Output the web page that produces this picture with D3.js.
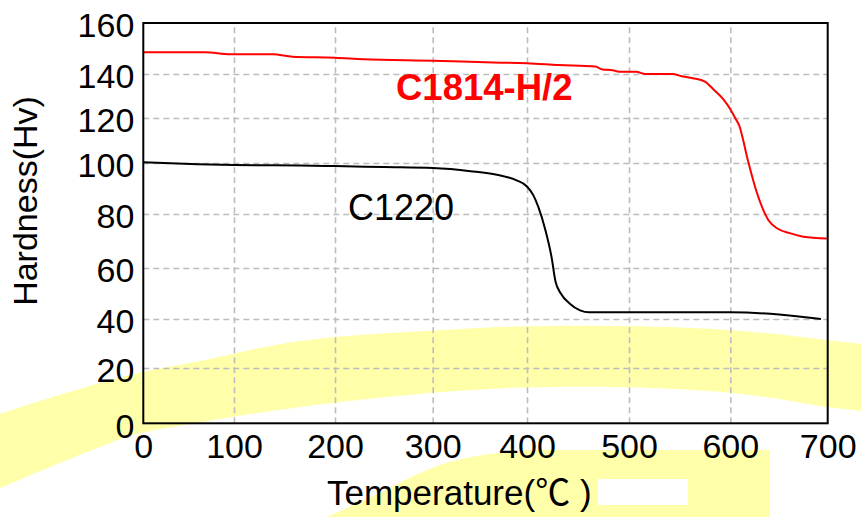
<!DOCTYPE html>
<html>
<head>
<meta charset="utf-8">
<script src="https://cdn.jsdelivr.net/npm/d3@7"></script>
<style>
	body { margin: 0; background: #fff; }
	svg text { font-family: "Liberation Sans", Arial, sans-serif; fill: #000; }
</style>
</head>
<body>
<svg id="chart" width="861" height="517"></svg>
<script>
// Hardness vs annealing temperature
var xTicks = [0, 100, 200, 300, 400, 500, 600, 700];
var yTicks = [0, 20, 40, 60, 80, 100, 120, 140, 160];

var c1814_temp = [0, 68, 96, 138, 158, 200, 229, 300, 364, 400, 431, 467, 474, 484, 490, 507, 516, 543, 551, 563, 575, 583, 593, 600, 605, 609, 618, 627, 639, 648, 661, 675, 699];
var c1814_hv   = [148.5, 148.5, 147.7, 147.7, 146.8, 146.4, 145.8, 145.2, 144.5, 144.2, 143.5, 142.9, 141.8, 141.5, 140.9, 140.9, 140.0, 140.0, 139.1, 138.1, 136.5, 133.2, 128.6, 124.0, 120.0, 116.8, 101.3, 88.7, 77.8, 74.7, 72.9, 71.6, 70.9];

var c1220_temp = [0, 60, 100, 165, 200, 250, 300, 340, 368, 389, 400, 406, 411, 418, 424, 428, 433, 442, 452, 461, 600, 650, 693];
var c1220_hv   = [100.3, 99.5, 99.2, 99.0, 98.8, 98.4, 98.0, 96.8, 95.4, 93.2, 90.8, 87.5, 82.9, 74.1, 64.2, 54.6, 50.1, 46.0, 43.4, 42.6, 42.6, 41.8, 40.0];

var seriesLabels = ['C1814-H/2', 'C1220'];

// the scanned figure is not evenly spaced, so the scales are piecewise
var xGridPx = [143.3, 234, 335, 432.7, 527, 629, 730.3, 827.7];
var yGridPx = [423.3, 368, 319, 268, 214, 163, 118, 74, 23];

var x = d3.scaleLinear().domain(xTicks).range(xGridPx);
var y = d3.scaleLinear().domain(yTicks).range(yGridPx);

var plotLeft = x(0), plotRight = x(700), plotTop = y(160), plotBottom = y(0);

var svg = d3.select('#chart');

// yellow watermark behind the figure
var bandTop = [[-10,418],[0,414],[50,398],[100,383],[143,372],[200,361],[300,341],[443,330],[550,326],[693,328],[765,333],[827,340],[871,345]];
var bandBottom = [[871,412],[827,407],[765,397],[693,390],[550,387],[443,392],[300,407],[190,424],[133,435],[100,447],[50,467],[0,488],[-10,492]];
var smooth = d3.line().curve(d3.curveCatmullRom);
svg.append('path')
	.attr('d', smooth(bandTop) + 'L' + smooth(bandBottom).slice(1) + 'Z')
	.attr('fill', '#ffffaa');
svg.append('path')
	.attr('d', smooth([[325,518],[371,497],[443,464],[515,451],[560,450]]) + 'L770,450L770,518Z')
	.attr('fill', '#ffffaa');
svg.append('rect')
	.attr('x', 598).attr('y', 479)
	.attr('width', 90).attr('height', 26)
	.attr('fill', '#fff');

// grid
var grid = svg.append('g').attr('class', 'grid');
grid.append('g')
	.attr('transform', 'translate(0,' + plotBottom + ')')
	.call(d3.axisBottom(x).tickValues(xTicks.slice(1, -1)).tickSize(-(plotBottom - plotTop)).tickFormat(''));
grid.append('g')
	.attr('transform', 'translate(' + plotLeft + ',0)')
	.call(d3.axisLeft(y).tickValues(yTicks.slice(1, -1)).tickSize(-(plotRight - plotLeft)).tickFormat(''));
grid.selectAll('.domain').remove();
grid.selectAll('line')
	.attr('stroke', '#bdbdbd')
	.attr('stroke-width', 1.6)
	.attr('stroke-dasharray', '6,4');

// tick labels
svg.append('g')
	.attr('transform', 'translate(0,' + plotBottom + ')')
	.call(d3.axisBottom(x).tickValues(xTicks).tickSize(0).tickPadding(11));
svg.append('g')
	.attr('transform', 'translate(' + plotLeft + ',3)')
	.call(d3.axisLeft(y).tickValues(yTicks).tickSize(0).tickPadding(9));
svg.selectAll('.domain').remove();
svg.selectAll('.tick text')
	.attr('font-family', '"Liberation Sans", Arial, sans-serif')
	.attr('font-size', 34)
	.attr('fill', '#000');

// curves
var line = d3.line()
	.x(d => x(d[0]))
	.y(d => y(d[1]))
	.curve(d3.curveMonotoneX);

svg.append('path')
	.datum(d3.zip(c1814_temp, c1814_hv))
	.attr('d', line)
	.attr('fill', 'none')
	.attr('stroke', '#ff0000')
	.attr('stroke-width', 2);
svg.append('path')
	.datum(d3.zip(c1220_temp, c1220_hv))
	.attr('d', line)
	.attr('fill', 'none')
	.attr('stroke', '#000')
	.attr('stroke-width', 2);

// frame
svg.append('rect')
	.attr('x', plotLeft).attr('y', plotTop)
	.attr('width', plotRight - plotLeft).attr('height', plotBottom - plotTop)
	.attr('fill', 'none')
	.attr('stroke', '#000')
	.attr('stroke-width', 2);

// series labels
svg.append('text')
	.attr('x', 396).attr('y', 100)
	.attr('font-size', 36.5)
	.attr('font-weight', 'bold')
	.style('fill', '#ff0000')
	.text(seriesLabels[0]);
svg.append('text')
	.attr('x', 348).attr('y', 220)
	.attr('font-size', 36)
	.text(seriesLabels[1]);

// axis titles
var xTitle = svg.append('text')
	.attr('x', 327).attr('y', 505)
	.attr('font-size', 35);
xTitle.append('tspan').text('Temperature(');
xTitle.append('tspan').style('font-family', '"Noto Sans CJK JP", sans-serif').text('℃');
xTitle.append('tspan').text(' )');

svg.append('text')
	.attr('transform', 'translate(37,201) rotate(-90)')
	.attr('text-anchor', 'middle')
	.attr('font-size', 34)
	.text('Hardness(Hv)');
</script>
</body>
</html>
